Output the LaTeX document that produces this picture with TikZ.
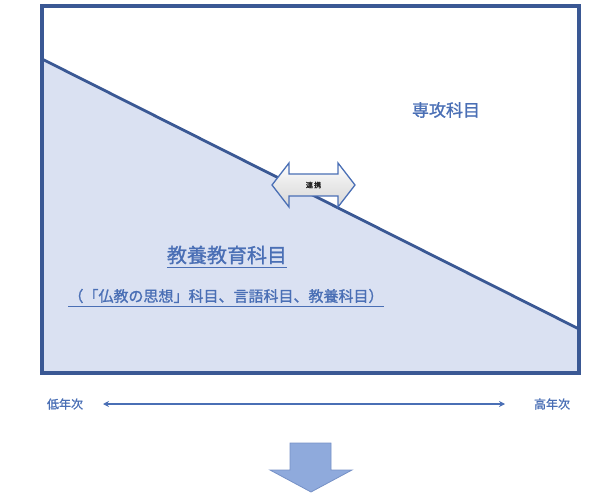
\documentclass[tikz,border=0pt]{standalone}
\usepackage{fontspec}
\newfontfamily\jp[FakeBold=1.2]{Noto Sans CJK JP}
\newfontfamily\jpb[FakeBold=2.5]{Noto Sans CJK JP}
\usetikzlibrary{arrows.meta,calc}
\definecolor{frameblue}{HTML}{3A5894}
\definecolor{fillblue}{HTML}{DAE1F2}
\definecolor{textblue}{HTML}{4A6FB5}
\definecolor{arrowfill}{HTML}{8FAADC}
\definecolor{grayfill}{HTML}{D9D9D9}
\tikzset{
  lbl/.style={text=textblue, font=\jp, inner sep=0pt},
  uline/.style={textblue, line width=0.9pt},
}
\begin{document}
\begin{tikzpicture}[x=1pt,y=-1pt]
\useasboundingbox (0,0) rectangle (594,497);
% lower region
\fill[fillblue] (42,59) -- (579,329) -- (579,373) -- (42,373) -- cycle;
\draw[frameblue, line width=2.8pt] (42,59) -- (579,329);
\draw[frameblue, line width=3.2pt] (42,6) rectangle (579,373);
% double arrow
\draw[textblue, line width=1.3pt, top color=white, bottom color=grayfill, middle color=grayfill!60]
  (272,185) -- (289,163) -- (289,174) -- (338,174) -- (338,163) -- (355,185)
  -- (338,207) -- (338,196) -- (289,196) -- (289,207) -- cycle;
\node[font=\jpb\fontsize{7}{7}\selectfont, text=black!85, inner sep=0pt] (renkei) at (313.5,185) {連\,携};
% texts
\node[lbl, font=\jp\fontsize{17}{17}\selectfont] (senko) at (446,110) {専攻科目};
\node[lbl, font=\jp\fontsize{20}{20}\selectfont] (kyoyo) at (227,255) {教養教育科目};
\draw[uline] ($(kyoyo.south west)+(0,3)$) -- ($(kyoyo.south east)+(0,3)$);
\node[lbl, font=\jp\fontsize{15}{15}\selectfont] (sub) at (226,296) {（「仏教の思想」科目、言語科目、教養科目）};
\draw[uline] ($(sub.south west)+(0,3)$) -- ($(sub.south east)+(0,3)$);
% axis
\node[lbl, font=\jp\fontsize{12}{12}\selectfont] (low) at (65,404) {低年次};
\node[lbl, font=\jp\fontsize{12}{12}\selectfont] (high) at (552,404) {高年次};
\coordinate (axl) at (103,404);
\coordinate (axr) at (505,404);
\draw[textblue, line width=1.2pt, {Stealth[length=6pt,width=6pt]}-{Stealth[length=6pt,width=6pt]}] (axl) -- (axr);
% down arrow
\draw[arrowfill!70!frameblue, line width=0.8pt, fill=arrowfill]
  (290,443) -- (331,443) -- (331,470) -- (352,470) -- (311,492) -- (270,470) -- (290,470) -- cycle;
\end{tikzpicture}
\end{document}
